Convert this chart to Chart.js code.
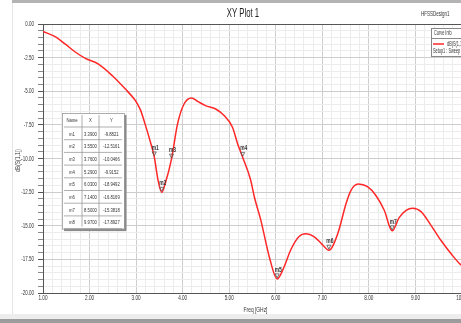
<!DOCTYPE html>
<html><head><meta charset="utf-8">
<script src="https://cdn.jsdelivr.net/npm/chart.js@4.4.0/dist/chart.umd.min.js"></script>
<style>
html,body{margin:0;padding:0;background:#fff;overflow:hidden;width:461px;height:323px}
#wrap{position:absolute;left:0;top:0;width:490px;height:323px}
</style></head><body>
<div id="wrap"><canvas id="c" width="490" height="323"></canvas></div>
<script>
const freqGHz = [1.00,1.27,1.48,1.70,1.91,2.20,2.49,2.77,2.96,3.03,3.10,3.17,3.28,3.39,3.47,3.55,3.63,3.76,3.89,4.03,4.19,4.32,4.49,4.71,4.89,5.07,5.18,5.29,5.46,5.54,5.68,5.86,6.03,6.18,6.32,6.50,6.65,6.82,7.00,7.14,7.33,7.51,7.61,7.77,7.97,8.15,8.33,8.50,8.65,8.80,8.94,9.12,9.33,9.55,9.77,9.97,10.00];
const s11dB = [-0.55,-0.96,-1.5,-2.1,-2.55,-3.0,-3.85,-4.84,-5.58,-5.95,-6.44,-7.19,-8.45,-9.88,-11.6,-12.52,-11.8,-10.05,-7.43,-5.95,-5.5,-5.75,-6.07,-6.32,-6.81,-7.68,-8.9,-9.92,-11.6,-12.86,-14.6,-17.3,-18.95,-18.05,-16.8,-15.8,-15.6,-15.8,-16.4,-16.82,-15.6,-13.35,-12.4,-11.9,-12.1,-12.75,-13.85,-15.38,-14.4,-13.85,-13.7,-13.95,-14.95,-16.1,-17.1,-17.89,-17.95];
const markerNames = ['m1','m2','m3','m4','m5','m6','m7','m8'];
const markerFreq = [3.39,3.55,3.76,5.29,6.03,7.14,8.50,9.97];
const markerDB = [-9.8821,-12.5161,-10.0466,-9.9152,-18.9492,-16.8169,-15.3818,-17.8927];
const tableHeader = ['Name','X','Y'];
const xMajorStep = 1, xMinorStep = 0.2;
const yMajorStep = 2.5, yMinorStep = 0.5;
const plotTitle = 'XY Plot 1';
const designName = 'HFSSDesign1';
const xTitle = 'Freq [GHz]';
const yTitle = 'dB(S(1,1))';
const legendHeader = 'Curve Info';
const legendSeries = 'dB(S(1,1))';
const legendSetup = 'Setup1 : Sweep';

const FONT = '"Liberation Sans",Arial,sans-serif';
const isMult = (v, s) => Math.abs(v / s - Math.round(v / s)) < 1e-6;

// condensed text helper
function txt(c, s, x, y, size, sx, align, color, bold, rot) {
  c.save();
  c.translate(x, y);
  if (rot) c.rotate(rot);
  c.scale(sx, 1);
  c.font = (bold ? 'bold ' : '') + size + 'px ' + FONT;
  c.fillStyle = color || '#333';
  c.textAlign = align || 'center';
  c.textBaseline = 'middle';
  c.fillText(s, 0, 0);
  c.restore();
}

const decor = {
  id: 'decor',
  beforeDraw(chart) {
    const c = chart.ctx;
    c.save();
    c.fillStyle = '#fff'; c.fillRect(0, 0, chart.width, chart.height);
    c.fillStyle = '#b4b4b4'; c.fillRect(12, 0, chart.width, 3);
    c.fillStyle = '#ededed'; c.fillRect(0, 314, chart.width, 5);
    c.fillStyle = '#9c9c9c'; c.fillRect(0, 319, chart.width, 4);
    c.strokeStyle = '#e4e4e4'; c.lineWidth = 1;
    c.beginPath(); c.moveTo(12.5, 3); c.lineTo(12.5, 314); c.stroke();
    c.restore();
  },
  afterDraw(chart) {
    const c = chart.ctx, a = chart.chartArea;
    const xs = chart.scales.x, ys = chart.scales.y;
    c.save();
    // top border
    c.strokeStyle = '#555'; c.lineWidth = 1;
    c.beginPath(); c.moveTo(a.left, Math.round(a.top) + 0.5); c.lineTo(a.right + 30, Math.round(a.top) + 0.5); c.stroke();
    // titles
    txt(c, plotTitle, 243, 14, 12.5, 0.62, 'center', '#222');
    txt(c, designName, 421, 14, 8, 0.56, 'left', '#333');
    txt(c, xTitle, (a.left + a.right) / 2 + 3, 310, 7.5, 0.65, 'center', '#333');
    txt(c, yTitle, 18, (a.top + a.bottom) / 2 + 2, 8, 0.62, 'center', '#333', false, -Math.PI / 2);
    // tick labels
    ys.ticks.forEach(t => {
      if (!isMult(t.value, yMajorStep)) return;
      const lab = Math.abs(t.value) < 1e-9 ? '0.00' : t.value.toFixed(2);
      txt(c, lab, 34, ys.getPixelForValue(t.value), 7.5, 0.6, 'right', '#333');
    });
    xs.ticks.forEach(t => {
      if (!isMult(t.value, xMajorStep)) return;
      txt(c, t.value.toFixed(2), xs.getPixelForValue(t.value), 297.5, 7.5, 0.62, 'center', '#333');
    });
    // markers (only those inside visible window)
    for (let i = 0; i < markerNames.length; i++) {
      const px = xs.getPixelForValue(markerFreq[i]);
      const py = ys.getPixelForValue(markerDB[i]);
      if (px + 4 > 461) continue;
      c.strokeStyle = '#555'; c.lineWidth = 0.8;
      c.beginPath(); c.moveTo(px, py - 1); c.lineTo(px - 2, py - 5); c.lineTo(px + 2, py - 5); c.closePath(); c.stroke();
      txt(c, markerNames[i], px + 1, py - 9, 7, 0.7, 'center', '#333', true);
    }
    // table
    const tx = [62, 82, 99, 124], top = 113, hh = 14, rh = 12.7;
    const n = markerNames.length;
    const bottom = top + hh + n * rh;
    c.fillStyle = '#8a8a8a';
    c.fillRect(tx[3], top + 2, 2.5, bottom - top);
    c.fillRect(tx[0] + 2, bottom, tx[3] - tx[0], 2.5);
    c.fillStyle = '#fff'; c.fillRect(tx[0], top, tx[3] - tx[0], bottom - top);
    c.strokeStyle = '#9a9a9a'; c.lineWidth = 0.8;
    c.strokeRect(tx[0] + 0.5, top + 0.5, tx[3] - tx[0], bottom - top);
    for (let r = 0; r <= n; r++) {
      const yy = top + hh + r * rh;
      c.beginPath(); c.moveTo(tx[0] + 2, yy); c.lineTo(tx[3] - 2, yy); c.stroke();
    }
    for (let k = 1; k < 3; k++) {
      c.beginPath(); c.moveTo(tx[k], top + 2); c.lineTo(tx[k], bottom - 2); c.stroke();
    }
    for (let k = 0; k < 3; k++) txt(c, tableHeader[k], (tx[k] + tx[k + 1]) / 2, top + hh / 2 + 0.5, 6, 0.7, 'center', '#333');
    for (let r = 0; r < n; r++) {
      const yy = top + hh + r * rh + rh / 2 + 0.5;
      txt(c, markerNames[r], (tx[0] + tx[1]) / 2, yy, 6, 0.7, 'center', '#333');
      txt(c, markerFreq[r].toFixed(4), (tx[1] + tx[2]) / 2, yy, 6, 0.7, 'center', '#333');
      txt(c, markerDB[r].toFixed(4), (tx[2] + tx[3]) / 2, yy, 6, 0.7, 'center', '#333');
    }
    // legend box
    const lx = 431, ly = 28;
    c.fillStyle = '#fff'; c.fillRect(lx, ly, 60, 28);
    c.strokeStyle = '#888'; c.lineWidth = 1;
    c.strokeRect(lx + 0.5, ly + 0.5, 60, 28);
    c.beginPath(); c.moveTo(lx, ly + 10.5); c.lineTo(lx + 60, ly + 10.5); c.stroke();
    txt(c, legendHeader, lx + 3, ly + 5.5, 7, 0.55, 'left', '#333');
    c.strokeStyle = 'rgb(255,40,40)'; c.lineWidth = 1.5;
    c.beginPath(); c.moveTo(lx + 2, ly + 16); c.lineTo(lx + 13, ly + 16); c.stroke();
    txt(c, legendSeries, lx + 16, ly + 16, 7, 0.55, 'left', '#333');
    txt(c, legendSetup, lx + 2, ly + 23, 7, 0.55, 'left', '#333');
    c.restore();
  }
};

new Chart(document.getElementById('c'), {
  type: 'line',
  data: {
    datasets: [{
      data: freqGHz.map((f, i) => ({x: f, y: s11dB[i]})),
      borderColor: 'rgb(255,40,40)',
      borderWidth: 1.5,
      pointRadius: 0,
      cubicInterpolationMode: 'monotone',
      fill: false
    }]
  },
  options: {
    responsive: false,
    animation: false,
    devicePixelRatio: 1,
    layout: {padding: {top: 24, right: 28, bottom: 0, left: 0}},
    plugins: {legend: {display: false}, tooltip: {enabled: false}, title: {display: false}},
    scales: {
      x: {
        type: 'linear', min: 1, max: 10,
        afterFit: s => { s.height = 30; },
        ticks: {stepSize: xMinorStep, autoSkip: false, maxRotation: 0, display: false},
        grid: {
          drawTicks: false,
          color: ctx => isMult(ctx.tick.value, xMajorStep) ? '#cdcdcd' : '#ececec',
          lineWidth: 1
        },
        border: {display: true, color: '#555', width: 1}
      },
      y: {
        type: 'linear', min: -20, max: 0,
        afterFit: s => { s.width = 43; },
        ticks: {stepSize: yMinorStep, autoSkip: false, display: false},
        grid: {
          tickLength: 5,
          color: ctx => isMult(ctx.tick.value, yMajorStep) ? '#cdcdcd' : '#ececec',
          tickColor: ctx => isMult(ctx.tick.value, yMajorStep) ? '#555' : '#888',
          lineWidth: 1
        },
        border: {display: true, color: '#555', width: 1}
      }
    }
  },
  plugins: [decor]
});
</script>
</body></html>
